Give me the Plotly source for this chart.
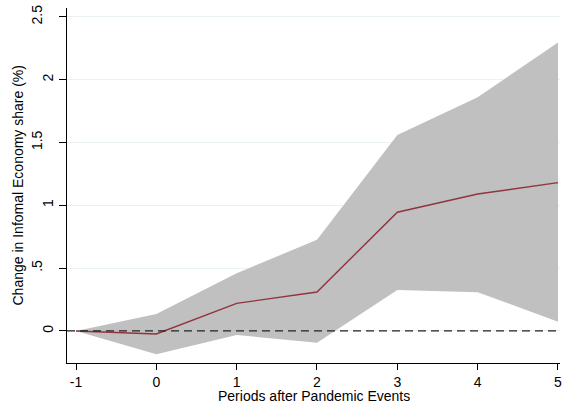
import plotly.graph_objects as go

periods = [-1, 0, 1, 2, 3, 4, 5]
estimate = [0.0, -0.024, 0.22, 0.31, 0.945, 1.09, 1.18]
upper = [0.0, 0.135, 0.46, 0.725, 1.56, 1.86, 2.295]
lower = [0.0, -0.186, -0.032, -0.093, 0.326, 0.308, 0.074]

y_ticks_major = [0, 1, 2]
y_ticks_half = [0.5, 1.5, 2.5]
y_ticktext_half = [".5", "1.5", "2.5"]
y_grid = [0, 0.5, 1, 1.5, 2, 2.5]
y_grid_text = ["0", ".5", "1", "1.5", "2", "2.5"]
x_ticks = [-1, 0, 1, 2, 3, 4, 5]
x_ticktext = ["-1", "0", "1", "2", "3", "4", "5"]

x_title = "Periods after Pandemic Events"
y_title = "Change in Infomal Economy share (%)"

y_range = [-0.255, 2.57]

fig = go.Figure()
fig.add_trace(go.Scatter(
    x=periods + periods[::-1],
    y=upper + lower[::-1],
    fill="toself", fillcolor="#c0c0c0",
    line=dict(width=0, color="#c0c0c0"),
    mode="lines", hoverinfo="skip", showlegend=False,
))
fig.add_shape(type="line", xref="paper", yref="y", x0=0, x1=1, y0=0, y1=0,
              line=dict(color="#222222", width=1.2, dash="8px,5px"), layer="above")
fig.add_trace(go.Scatter(
    x=periods, y=estimate, mode="lines", yaxis="y2",
    line=dict(color="#90353b", width=1.4), showlegend=False,
))

font_family = "Liberation Sans, Arial, Helvetica, sans-serif"
fig.update_layout(
    width=562, height=405,
    margin=dict(l=67, r=2, t=8, b=42, autoexpand=False),
    paper_bgcolor="white", plot_bgcolor="white",
    font=dict(family=font_family, size=14, color="#000000"),
    showlegend=False,
    xaxis=dict(
        range=[-1.112, 5.025], tickvals=x_ticks, ticktext=x_ticktext,
        ticks="outside", ticklen=6, tickcolor="#000", tickwidth=1,
        showline=True, linecolor="#000", linewidth=1,
        showgrid=False, zeroline=False, automargin=False,
        ticklabeloverflow="allow",
        tickfont=dict(size=14),
    ),
    yaxis=dict(
        range=y_range, tickvals=y_grid,
        ticktext=[t if v in y_ticks_major else "" for v, t in zip(y_grid, y_grid_text)],
        tickangle=-90,
        ticks="outside", ticklen=7, tickcolor="#000", tickwidth=1,
        showline=True, linecolor="#000", linewidth=1,
        showgrid=True, gridcolor="#eaf2f3", gridwidth=1,
        zeroline=False, automargin=False,
        ticklabeloverflow="allow",
        tickfont=dict(size=14),
    ),
    yaxis2=dict(
        range=y_range, overlaying="y", side="left", anchor="x",
        tickvals=y_ticks_half, ticktext=y_ticktext_half,
        tickangle=-90, ticks="outside", ticklen=7, tickcolor="rgba(0,0,0,0)",
        ticklabelstandoff=11,
        showline=False, showgrid=False, zeroline=False, automargin=False,
        ticklabeloverflow="allow",
        tickfont=dict(size=14),
    ),
    annotations=[
        dict(text=x_title, xref="paper", yref="paper", x=0.5, y=0,
             xanchor="center", yanchor="middle", yshift=-33, showarrow=False,
             font=dict(size=14)),
        dict(text=y_title, xref="paper", yref="paper", x=0, y=0.5,
             xanchor="center", yanchor="middle", xshift=-50, textangle=-90,
             showarrow=False, font=dict(size=14)),
    ],
)

fig.write_html(
    "out.html",
    config={"displayModeBar": False},
    post_script="document.body.style.margin='0';document.body.style.overflow='hidden';",
)
